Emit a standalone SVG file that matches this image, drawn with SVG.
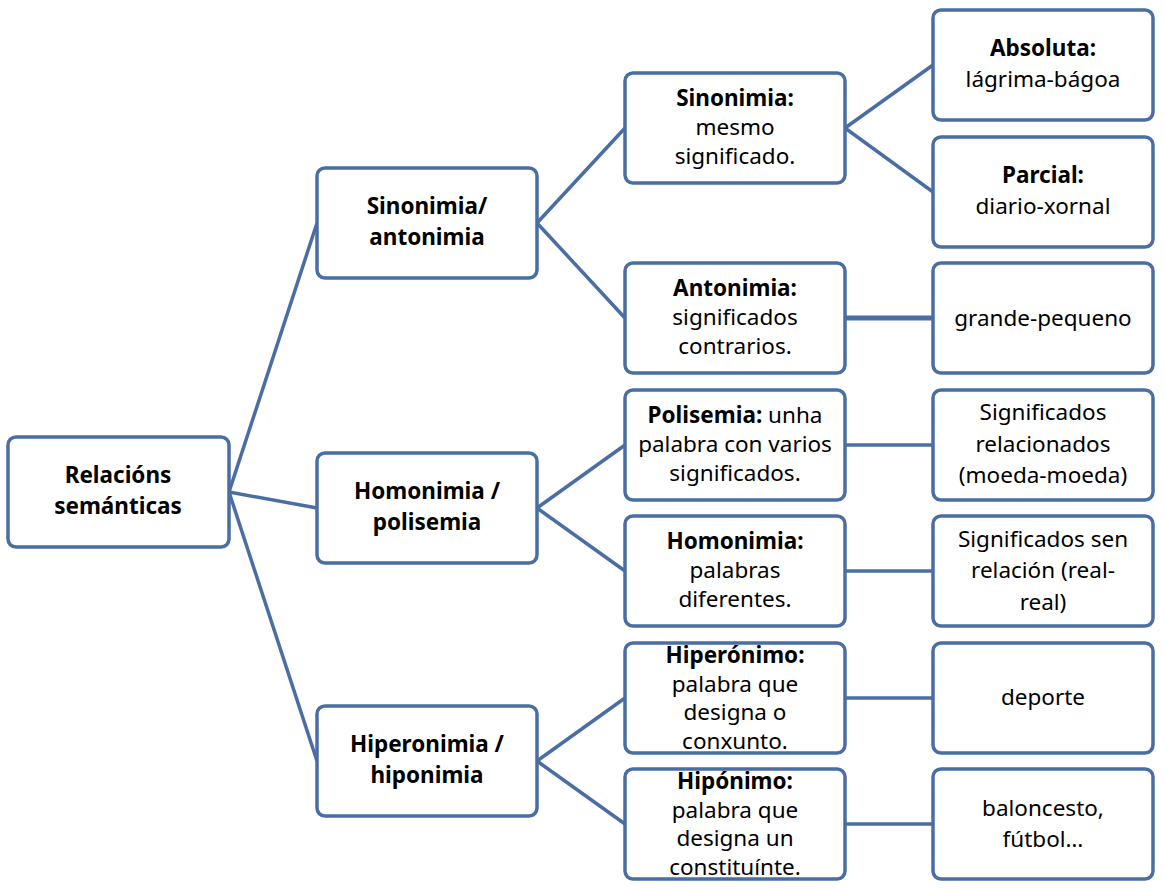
<svg xmlns="http://www.w3.org/2000/svg" width="1165" height="889" viewBox="0 0 1165 889">
<style>
rect{fill:#fff;stroke:#4a6ea4;stroke-width:3.5}
#connectors line{stroke:#4a6ea4;stroke-width:3.5}
text{font-family:"Noto Sans","DejaVu Sans",sans-serif;font-size:22.5px;fill:#000;text-anchor:middle}
.b{font-weight:bold}
</style>
<rect x="0" y="0" width="1165" height="889" style="fill:#fff;stroke:none"/>
<g id="connectors">
<line x1="229" y1="492" x2="317" y2="223"/><line x1="229" y1="492" x2="317" y2="508"/><line x1="229" y1="492" x2="317" y2="761"/>
<line x1="537" y1="223" x2="625" y2="128"/><line x1="537" y1="223" x2="625" y2="318"/>
<line x1="537" y1="508" x2="625" y2="445"/><line x1="537" y1="508" x2="625" y2="571"/>
<line x1="537" y1="761" x2="625" y2="698"/><line x1="537" y1="761" x2="625" y2="824"/>
<line x1="845" y1="128" x2="933" y2="65"/><line x1="845" y1="128" x2="933" y2="192"/>
<line x1="845" y1="318" x2="933" y2="318" style="stroke-width:5"/>
<line x1="845" y1="445" x2="933" y2="445"/><line x1="845" y1="571" x2="933" y2="571"/>
<line x1="845" y1="698" x2="933" y2="698"/><line x1="845" y1="824" x2="933" y2="824"/>
</g>
<g id="root"><rect x="8" y="437" width="221" height="110" rx="8"/><text class="b" x="118" y="483">Relacións</text><text class="b" x="118" y="514">semánticas</text></g>
<g id="sinant"><rect x="317" y="168" width="220" height="110" rx="8"/><text class="b" x="427" y="214">Sinonimia/</text><text class="b" x="427" y="245">antonimia</text></g>
<g id="hompol"><rect x="317" y="453" width="220" height="110" rx="8"/><text class="b" x="427" y="499">Homonimia /</text><text class="b" x="427" y="530">polisemia</text></g>
<g id="hiphip"><rect x="317" y="706" width="220" height="110" rx="8"/><text class="b" x="427" y="752">Hiperonimia /</text><text class="b" x="427" y="783">hiponimia</text></g>
<g id="sin"><rect x="625" y="73" width="220" height="110" rx="8"/><text class="b" x="735" y="106">Sinonimia:</text><text x="735" y="135">mesmo</text><text x="735" y="164">significado.</text></g>
<g id="ant"><rect x="625" y="263" width="220" height="110" rx="8"/><text class="b" x="735" y="296">Antonimia:</text><text x="735" y="325">significados</text><text x="735" y="354">contrarios.</text></g>
<g id="pol"><rect x="625" y="390" width="220" height="110" rx="8"/><text x="735" y="423"><tspan class="b">Polisemia:</tspan> unha</text><text x="735" y="452">palabra con varios</text><text x="735" y="481">significados.</text></g>
<g id="hom"><rect x="625" y="516" width="220" height="110" rx="8"/><text class="b" x="735" y="549">Homonimia:</text><text x="735" y="578">palabras</text><text x="735" y="607">diferentes.</text></g>
<g id="hiper"><rect x="625" y="643" width="220" height="110" rx="8"/><text class="b" x="735" y="663">Hiperónimo:</text><text x="735" y="692">palabra que</text><text x="735" y="720">designa o</text><text x="735" y="749">conxunto.</text></g>
<g id="hipo"><rect x="625" y="769" width="220" height="110" rx="8"/><text class="b" x="735" y="789">Hipónimo:</text><text x="735" y="818">palabra que</text><text x="735" y="846">designa un</text><text x="735" y="875">constituínte.</text></g>
<g id="abs"><rect x="933" y="10" width="220" height="110" rx="8"/><text class="b" x="1043" y="56">Absoluta:</text><text x="1043" y="87">lágrima-bágoa</text></g>
<g id="par"><rect x="933" y="137" width="220" height="110" rx="8"/><text class="b" x="1043" y="183">Parcial:</text><text x="1043" y="214">diario-xornal</text></g>
<g id="gp"><rect x="933" y="263" width="220" height="110" rx="8"/><text x="1043" y="326">grande-pequeno</text></g>
<g id="sr"><rect x="933" y="390" width="220" height="110" rx="8"/><text x="1043" y="420">Significados</text><text x="1043" y="452">relacionados</text><text x="1043" y="483">(moeda-moeda)</text></g>
<g id="ss"><rect x="933" y="516" width="220" height="110" rx="8"/><text x="1043" y="547">Significados sen</text><text x="1043" y="578">relación (real-</text><text x="1043" y="610">real)</text></g>
<g id="dep"><rect x="933" y="643" width="220" height="110" rx="8"/><text x="1043" y="705">deporte</text></g>
<g id="bal"><rect x="933" y="769" width="220" height="110" rx="8"/><text x="1043" y="816">baloncesto,</text><text x="1043" y="847">fútbol…</text></g>
</svg>
